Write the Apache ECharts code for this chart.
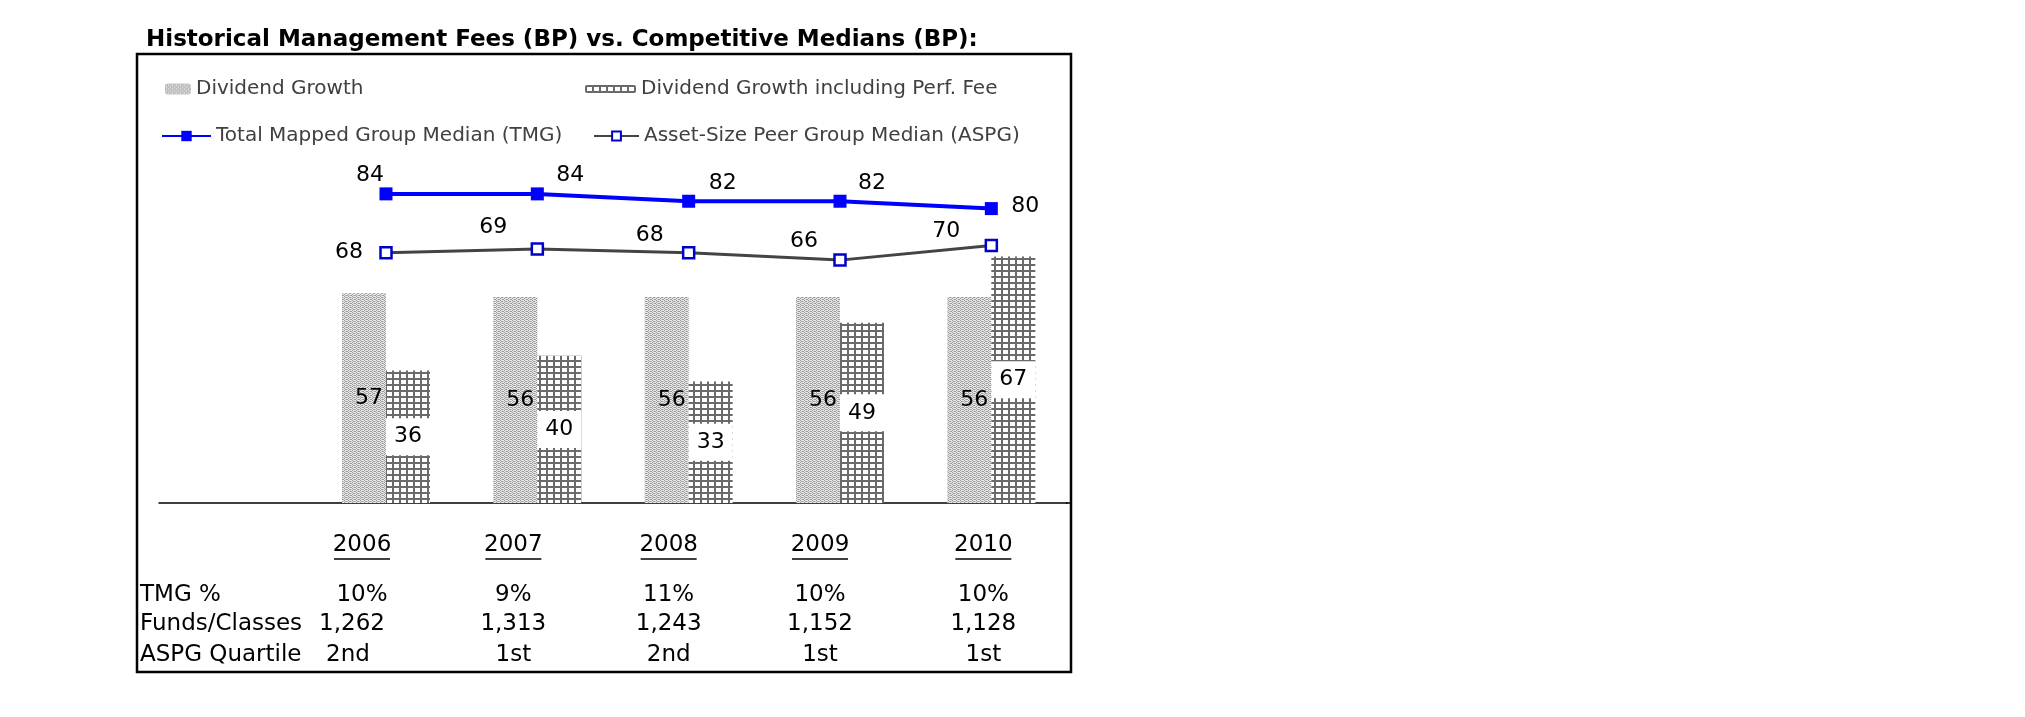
<!DOCTYPE html>
<html>
<head>
<meta charset="utf-8">
<script src="https://cdn.jsdelivr.net/npm/echarts@6/dist/echarts.min.js"></script>
<style>
html,body{margin:0;padding:0;background:#fff;}
#chart{width:2025px;height:717px;}
</style>
</head>
<body>
<div id="chart"></div>
<script>
// ---- data ----
const years = ['2006', '2007', '2008', '2009', '2010'];
const dividendGrowth = [57, 56, 56, 56, 56];
const dividendGrowthPerf = [36, 40, 33, 49, 67];
const tmgMedian = [84, 84, 82, 82, 80];
const aspgMedian = [68, 69, 68, 66, 70];
const rowLabels = ['TMG %', 'Funds/Classes', 'ASPG Quartile'];
const tmgPct = ['10%', '9%', '11%', '10%', '10%'];
const fundsClasses = ['1,262', '1,313', '1,243', '1,152', '1,128'];
const aspgQuartile = ['2nd', '1st', '2nd', '1st', '1st'];
const titleText = 'Historical Management Fees (BP) vs. Competitive Medians (BP):';
const seriesNames = ['Dividend Growth', 'Dividend Growth including Perf. Fee',
  'Total Mapped Group Median (TMG)', 'Asset-Size Peer Group Median (ASPG)'];

// first category is the empty column that holds the table row labels
const categories = [''].concat(years);
const pad = arr => [null].concat(arr);

// ---- patterns ----
function stipple() {
  const c = document.createElement('canvas');
  c.width = 4; c.height = 4;
  const g = c.getContext('2d');
  g.fillStyle = '#e8e8e8'; g.fillRect(0, 0, 4, 4);
  g.fillStyle = '#9a9a9a';
  [[0,0],[2,1],[0,2],[2,3],[1,1],[3,3]].forEach(p => g.fillRect(p[0], p[1], 1, 1));
  g.fillStyle = '#c8c8c8';
  [[1,3],[3,1]].forEach(p => g.fillRect(p[0], p[1], 1, 1));
  return c;
}
function grid() {
  const c = document.createElement('canvas');
  c.width = 7; c.height = 6;
  const g = c.getContext('2d');
  g.fillStyle = '#ffffff'; g.fillRect(0, 0, 7, 6);
  g.fillStyle = '#6a6a6a';
  g.fillRect(0, 0, 2, 6);
  g.fillRect(0, 0, 7, 2);
  return c;
}
const dgColor = { image: stipple(), repeat: 'repeat' };
const perfColor = { image: grid(), repeat: 'repeat' };

const labelFont = 'DejaVu Sans';
const labelSize = 22;
const tmgOffsets = [[-16,-19],[33,-19],[34,-18],[32,-18],[34,-2]];
const aspgOffsets = [[-37,0],[-44,-22],[-39,-17],[-36,-19],[-45,-14]];

function lineData(vals, offs) {
  return pad(vals).map((v, i) => i === 0 ? null : ({
    value: v,
    label: { offset: offs[i - 1] }
  }));
}

const chart = echarts.init(document.getElementById('chart'), null, { renderer: 'canvas' });

const legendText = { color: '#404040', fontFamily: 'DejaVu Sans', fontSize: 20 };

const option = {
  backgroundColor: '#ffffff',
  animation: false,
  title: {
    text: titleText,
    left: 141, top: 24,
    textStyle: { fontFamily: 'DejaVu Sans', fontWeight: 'bold', fontSize: 23, color: '#000' }
  },
  legend: [
    { data: [seriesNames[0]], left: 160, top: 74, itemWidth: 26, itemHeight: 11, itemGap: 0,
      textStyle: legendText, selectedMode: false },
    { data: [seriesNames[1]], left: 580, top: 74, itemWidth: 51, itemHeight: 8, itemGap: 0,
      textStyle: legendText, selectedMode: false },
    { data: [seriesNames[2]], left: 156, top: 121, itemWidth: 49, itemHeight: 13, itemGap: 0,
      textStyle: legendText, selectedMode: false },
    { data: [seriesNames[3]], left: 588, top: 121, itemWidth: 45, itemHeight: 11, itemGap: 0,
      textStyle: legendText, selectedMode: false }
  ],
  grid: { left: 159, right: 958, top: 135, bottom: 214 },
  xAxis: {
    type: 'category',
    data: categories,
    axisLine: { lineStyle: { color: '#000', width: 1.5 } },
    axisTick: { show: false },
    axisLabel: { show: false }
  },
  yAxis: {
    type: 'value', min: 0, max: 100, interval: 20, show: false,
    splitLine: { show: false }
  },
  series: [
    {
      name: seriesNames[0], type: 'bar', data: pad(dividendGrowth),
      barWidth: 44, barGap: '0%',
      itemStyle: { color: dgColor },
      label: {
        show: true, position: 'insideRight', distance: 3,
        color: '#000', fontFamily: labelFont, fontSize: labelSize
      }
    },
    {
      name: seriesNames[1], type: 'bar', data: pad(dividendGrowthPerf),
      barWidth: 44,
      itemStyle: { color: perfColor },
      label: {
        show: true, position: 'inside',
        color: '#000', fontFamily: labelFont, fontSize: labelSize,
        backgroundColor: '#ffffff', width: 44, align: 'center',
        padding: [8, 0, 7, 0]
      }
    },
    {
      name: seriesNames[2], type: 'line', data: lineData(tmgMedian, tmgOffsets),
      symbol: 'rect', symbolSize: 13,
      itemStyle: { color: '#0000ff' },
      lineStyle: { color: '#0000ff', width: 4 },
      label: {
        show: true, position: 'inside',
        color: '#000', fontFamily: labelFont, fontSize: labelSize
      },
      z: 5
    },
    {
      name: seriesNames[3], type: 'line', data: lineData(aspgMedian, aspgOffsets),
      symbol: 'rect', symbolSize: 11,
      itemStyle: { color: '#ffffff', borderColor: '#0000cc', borderWidth: 2.5 },
      lineStyle: { color: '#444444', width: 3 },
      label: {
        show: true, position: 'inside',
        color: '#000', fontFamily: labelFont, fontSize: labelSize
      },
      z: 4
    }
  ]
};
chart.setOption(option);

// ---- table below the axis, aligned to the category columns ----
const colShift = [-24, -24, -20, -20, -8];
const firstColExtra = [0, -10, -14];
const rowsY = [595, 624, 655];
const yearY = 545;
const tableFont = { fontFamily: 'DejaVu Sans', fontSize: 23, fill: '#000' };
const axisY = 717 - 214;
const els = [];
els.push({
  type: 'rect', silent: true, z: 0,
  shape: { x: 137, y: 54, width: 934, height: 618 },
  style: { fill: null, stroke: '#000', lineWidth: 2.5 }
});
els.push({
  type: 'line', silent: true,
  shape: { x1: 1066, y1: axisY, x2: 1071, y2: axisY },
  style: { stroke: '#000', lineWidth: 1.5 }
});
rowLabels.forEach((t, r) => {
  els.push({ type: 'text', x: 140, y: rowsY[r],
    style: Object.assign({ text: t, align: 'left', verticalAlign: 'middle' }, tableFont) });
});
const rows = [tmgPct, fundsClasses, aspgQuartile];
years.forEach((yr, i) => {
  const cx = chart.convertToPixel({ xAxisIndex: 0 }, yr) + colShift[i];
  els.push({ type: 'text', x: cx, y: yearY,
    style: Object.assign({ text: yr, align: 'center', verticalAlign: 'middle' }, tableFont) });
  els.push({ type: 'line', shape: { x1: cx - 28, y1: yearY + 14, x2: cx + 28, y2: yearY + 14 },
    style: { stroke: '#000', lineWidth: 1.5 } });
  rows.forEach((arr, r) => {
    const x = cx + (i === 0 ? firstColExtra[r] : 0);
    els.push({ type: 'text', x: x, y: rowsY[r],
      style: Object.assign({ text: arr[i], align: 'center', verticalAlign: 'middle' }, tableFont) });
  });
});
chart.setOption({ graphic: { elements: els } });
</script>
</body>
</html>
